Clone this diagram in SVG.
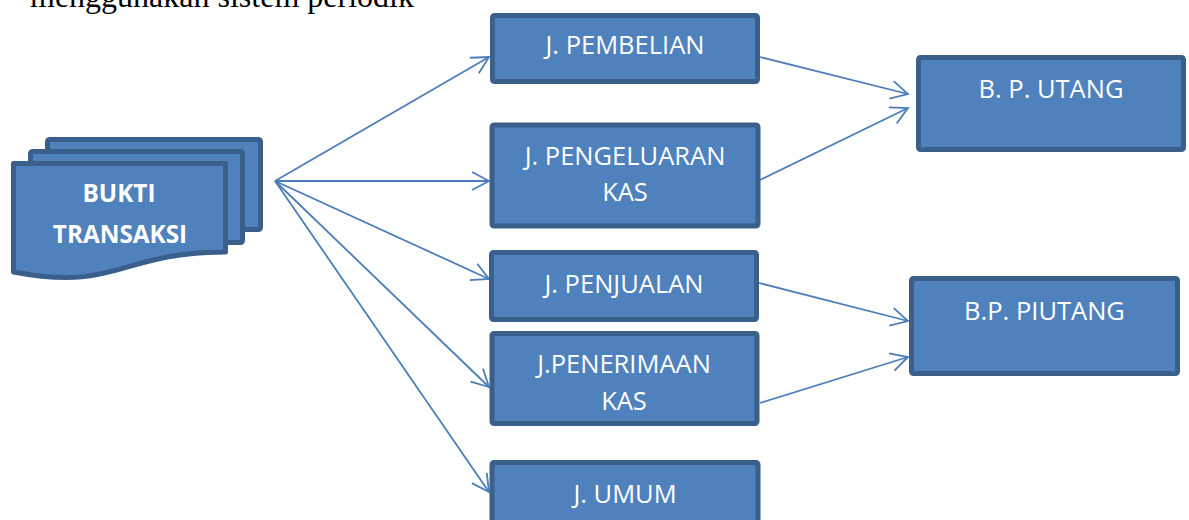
<svg xmlns="http://www.w3.org/2000/svg" width="1189" height="520" viewBox="0 0 1189 520">
<style>
.box{fill:#4f81bd;stroke:#3a5f8b;stroke-width:5;stroke-linejoin:round}
.lbl{font-family:"Open Sans","Noto Sans",sans-serif;font-size:25.5px;fill:#ffffff;text-anchor:middle}
.blbl{font-family:"Open Sans","Noto Sans",sans-serif;font-size:24.3px;font-weight:bold;fill:#ffffff;text-anchor:middle}
.conn{stroke:#4a7ebb;stroke-width:1.8;fill:none;marker-end:url(#arr)}
</style>
<defs>
<marker id="arr" markerUnits="userSpaceOnUse" viewBox="-20 -12 22 24" refX="0" refY="0" markerWidth="22" markerHeight="24" orient="auto">
<path d="M -17 -9 L 0 0 L -17 9" fill="none" stroke="#4a7ebb" stroke-width="1.8"/>
</marker>
</defs>
<rect width="1189" height="520" fill="#ffffff"/>
<text x="30" y="7" font-family="Liberation Serif,serif" font-size="32" fill="#000000">menggunakan sistem periodik</text>

<g id="connectors">
<line class="conn" x1="275" y1="181" x2="489" y2="57"/>
<line class="conn" x1="275" y1="181" x2="489" y2="181"/>
<line class="conn" x1="275" y1="181" x2="489" y2="279"/>
<line class="conn" x1="275" y1="181" x2="489" y2="387"/>
<line class="conn" x1="275" y1="181" x2="489" y2="492"/>
<line class="conn" x1="760" y1="57" x2="908" y2="94"/>
<line class="conn" x1="760" y1="180" x2="908" y2="108"/>
<line class="conn" x1="759" y1="283" x2="908" y2="321"/>
<line class="conn" x1="760" y1="403" x2="908" y2="357"/>
</g>

<g id="bukti-transaksi">
<rect class="box" x="47.5" y="139.5" width="213" height="90" rx="2"/>
<rect class="box" x="30.5" y="151.5" width="212" height="91" rx="2"/>
<path class="box" d="M 13.5 163.5 H 225.5 V 252 C 119 252 119 292 13.5 272 Z"/>
<text class="blbl" x="119" y="202">BUKTI</text>
<text class="blbl" x="120" y="243">TRANSAKSI</text>
</g>

<g id="j-pembelian">
<rect class="box" x="492.5" y="15.5" width="265" height="66" rx="2"/>
<text class="lbl" x="625" y="54">J. PEMBELIAN</text>
</g>

<g id="j-pengeluaran-kas">
<rect class="box" x="492" y="125" width="266" height="101" rx="2"/>
<text class="lbl" x="625" y="165">J. PENGELUARAN</text>
<text class="lbl" x="625" y="201">KAS</text>
</g>

<g id="j-penjualan">
<rect class="box" x="491.5" y="252.5" width="265" height="67" rx="2"/>
<text class="lbl" x="624" y="293">J. PENJUALAN</text>
</g>

<g id="j-penerimaan-kas">
<rect class="box" x="492" y="333.5" width="265" height="90" rx="2"/>
<text class="lbl" x="624" y="373">J.PENERIMAAN</text>
<text class="lbl" x="624" y="410">KAS</text>
</g>

<g id="j-umum">
<rect class="box" x="492" y="462.5" width="266" height="80" rx="2"/>
<text class="lbl" x="625" y="503">J. UMUM</text>
</g>

<g id="bp-utang">
<rect class="box" x="918.5" y="57.5" width="265" height="92" rx="2"/>
<text class="lbl" x="1051" y="98">B. P. UTANG</text>
</g>

<g id="bp-piutang">
<rect class="box" x="911.5" y="278.5" width="266" height="95" rx="2"/>
<text class="lbl" x="1044.5" y="320">B.P. PIUTANG</text>
</g>
</svg>
